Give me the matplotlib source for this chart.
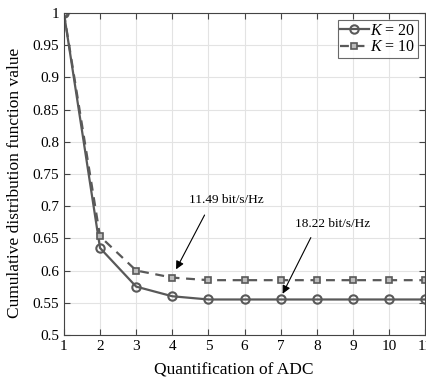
import numpy as np
import matplotlib
matplotlib.use("Agg")
import matplotlib.pyplot as plt

plt.rcParams['font.family'] = ['Liberation Serif', 'DejaVu Serif']
plt.rcParams['mathtext.fontset'] = 'custom'
plt.rcParams['mathtext.it'] = 'Liberation Serif:italic'
plt.rcParams['mathtext.rm'] = 'Liberation Serif'

adc_bits = [1, 2, 3, 4, 5, 6, 7, 8, 9, 10, 11]
cdf_k20 = [1.0, 0.635, 0.575, 0.560, 0.555, 0.555, 0.555, 0.555, 0.555, 0.555, 0.555]
cdf_k10 = [1.0, 0.653, 0.600, 0.589, 0.585, 0.585, 0.585, 0.585, 0.585, 0.585, 0.585]
yticks = [0.5, 0.55, 0.6, 0.65, 0.7, 0.75, 0.8, 0.85, 0.9, 0.95, 1]
ytick_labels = ['0.5', '0.55', '0.6', '0.65', '0.7', '0.75', '0.8', '0.85', '0.9', '0.95', '1']

fig = plt.figure(figsize=(4.26, 3.81), dpi=100)
ax = fig.add_axes([0.150, 0.121, 0.848, 0.845])

col = '#595959'
ax.plot(adc_bits, cdf_k20, '-', color=col, lw=1.6, marker='o', ms=6,
        mfc='none', mec=col, mew=1.5, label='$K$ = 20')
ax.plot(adc_bits, cdf_k10, '--', color=col, lw=1.6, marker='s', ms=5,
        mfc='#bbbbbb', mec=col, mew=1.2, label='$K$ = 10', dashes=(4, 3))

ax.set_xlim(1, 11)
ax.set_ylim(0.5, 1)
ax.set_xticks(adc_bits)
ax.set_yticks(yticks)
ax.set_yticklabels(ytick_labels)
ax.tick_params(direction='in', top=True, right=True, labelsize=11, length=4,
               color='#444444')
ax.grid(True, color='#e3e3e3', lw=0.8)
for s in ax.spines.values():
    s.set_color('#444444')

ax.set_xlabel('Quantification of ADC', fontsize=12.5)
ax.set_ylabel('Cumulative distribution function value', fontsize=12.5)
ax.xaxis.set_label_coords(0.47, -0.085)
ax.yaxis.set_label_coords(-0.112, 0.472)

leg = ax.legend(loc='upper right', fontsize=11.5, fancybox=False,
                edgecolor='#444444', handlelength=1.8, handletextpad=0.1,
                borderpad=0.15, labelspacing=0.05, borderaxespad=0.45)
leg.get_frame().set_linewidth(0.8)

ax.text(5.49, 0.710, '11.49 bit/s/Hz', ha='center', va='center', fontsize=9.5)
ax.annotate('', xy=(4.07, 0.598), xytext=(4.93, 0.690),
            arrowprops=dict(arrowstyle='-|>', color='black', lw=0.8,
                            mutation_scale=12))
ax.text(8.45, 0.672, '18.22 bit/s/Hz', ha='center', va='center', fontsize=9.5)
ax.annotate('', xy=(7.02, 0.560), xytext=(7.87, 0.655),
            arrowprops=dict(arrowstyle='-|>', color='black', lw=0.8,
                            mutation_scale=12))

fig.savefig('out.png', dpi=100)
